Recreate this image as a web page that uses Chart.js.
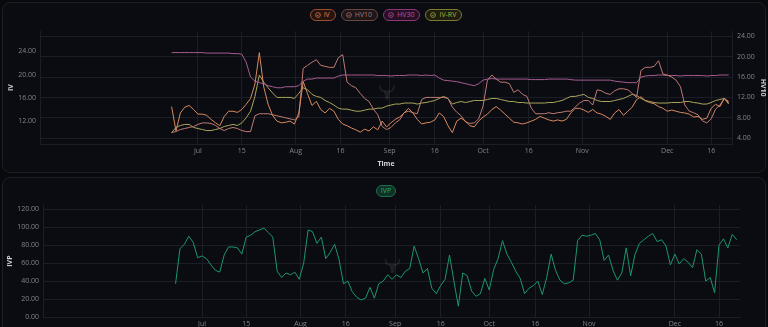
<!DOCTYPE html>
<html>
<head>
<meta charset="utf-8">
<title>IV / HV chart</title>
<script src="https://cdn.jsdelivr.net/npm/chart.js@4.4.1/dist/chart.umd.min.js"></script>
<style>
  html, body { margin: 0; padding: 0; background: #07090d; width: 768px; height: 327px; overflow: hidden; font-family: 'Open Sans', sans-serif; }
  .panel { position: absolute; left: 2px; width: 762px; border: 1px solid #1b1f27; border-radius: 8px; background: #0a0c11; }
  #p1 { top: 2px; height: 169px; }
  #p2 { top: 177px; height: 170px; }
  canvas { position: absolute; left: 0; }
  #c1 { top: 22px; }
  #c2 { top: 197px; }
  .legend { position: absolute; left: 0; width: 772px; display: flex; justify-content: center; gap: 5px; }
  #lg1 { top: 9px; }
  #lg2 { top: 185px; }
  .pill { display: flex; align-items: center; gap: 3px; height: 10px; padding: 0 5px 0 4px; border: 1px solid; border-radius: 7px; font-size: 7px; line-height: 10px; }
  .pill svg { width: 6px; height: 6px; }
</style>
</head>
<body>
<div class="panel" id="p1"></div>
<div class="panel" id="p2"></div>

<div class="legend" id="lg1">
  <span class="pill" style="border-color:#9c4f2f;background:#26140f;color:#e07a4c"><svg viewBox="0 0 10 10"><circle cx="5" cy="5" r="4" fill="none" stroke="currentColor" stroke-width="1.2"/><path d="M3 5.2l1.4 1.4L7 4" fill="none" stroke="currentColor" stroke-width="1.2"/></svg>IV</span>
  <span class="pill" style="border-color:#6a4842;background:#1e1618;color:#a8766c"><svg viewBox="0 0 10 10"><circle cx="5" cy="5" r="4" fill="none" stroke="currentColor" stroke-width="1.2"/><path d="M3 5.2l1.4 1.4L7 4" fill="none" stroke="currentColor" stroke-width="1.2"/></svg>HV10</span>
  <span class="pill" style="border-color:#8e357a;background:#261124;color:#c04ea6"><svg viewBox="0 0 10 10"><circle cx="5" cy="5" r="4" fill="none" stroke="currentColor" stroke-width="1.2"/><path d="M3 5.2l1.4 1.4L7 4" fill="none" stroke="currentColor" stroke-width="1.2"/></svg>HV30</span>
  <span class="pill" style="border-color:#7c7c2c;background:#1d1d10;color:#b0b044"><svg viewBox="0 0 10 10"><circle cx="5" cy="5" r="4" fill="none" stroke="currentColor" stroke-width="1.2"/><path d="M3 5.2l1.4 1.4L7 4" fill="none" stroke="currentColor" stroke-width="1.2"/></svg>IV-RV</span>
</div>
<div class="legend" id="lg2">
  <span class="pill" style="border-color:#1b6e4e;background:#0e3326;color:#2aa876;padding:0 4px">IVP</span>
</div>

<canvas id="c1" width="768" height="150"></canvas>
<canvas id="c2" width="768" height="140"></canvas>

<script>
'use strict';

// trading days from 21 Jun to 20 Dec, one value per day
const ivValues = [
  14.5, 10.3, 13.4, 14.4, 14.7, 14.0, 13.2, 13.2, 13.0, 12.3,
  11.7, 11.2, 12.8, 13.7, 13.7, 13.5, 14.0, 14.9, 15.9, 18.4,
  23.8, 17.9, 14.9, 13.0, 12.0, 11.7, 11.8, 12.0, 11.5, 13.4,
  18.8, 16.7, 14.7, 15.4, 14.0, 13.4, 14.2, 13.7, 12.3, 11.5,
  11.2, 10.8, 10.5, 10.1, 10.6, 10.3, 11.0, 10.5, 12.0, 11.0,
  11.7, 12.3, 12.7, 13.4, 14.2, 13.4, 12.3, 11.5, 11.7, 11.8,
  12.2, 13.4, 12.8, 11.2, 10.0, 12.0, 12.5, 12.0, 11.2, 11.0,
  12.0, 12.7, 13.2, 14.0, 14.5, 13.9, 13.2, 12.5, 11.8, 11.7,
  11.5, 11.7, 12.0, 12.3, 12.8, 12.5, 12.2, 12.0, 12.2, 12.0,
  12.3, 13.4, 14.2, 14.2, 13.9, 13.5, 14.0, 13.4, 13.2, 12.8,
  12.3, 13.4, 14.0, 13.0, 13.7, 14.4, 15.7, 16.2, 15.5, 15.2,
  15.0, 14.5, 14.2, 13.7, 13.9, 13.7, 13.5, 13.4, 13.2, 12.7,
  12.8, 12.3, 12.5, 14.2, 14.9, 14.5, 15.9, 15.2
];
const hv10Values = [
  5.1, 5.3, 5.7, 5.9, 6.1, 6.3, 6.7, 7.0, 7.0, 6.9,
  6.5, 5.9, 5.5, 5.9, 6.1, 5.9, 5.5, 5.3, 5.3, 8.4,
  8.8, 8.8, 8.8, 8.6, 8.4, 8.2, 8.0, 7.8, 7.6, 8.2,
  17.7, 18.3, 18.9, 19.4, 18.3, 18.1, 17.9, 17.9, 19.8, 20.4,
  15.0, 14.3, 13.9, 12.8, 11.8, 11.2, 9.7, 8.6, 6.3, 5.7,
  6.1, 7.0, 7.6, 9.0, 9.3, 9.0, 8.8, 11.6, 12.0, 12.0,
  12.0, 12.0, 12.0, 11.8, 10.1, 9.1, 8.4, 7.2, 6.9, 7.0,
  7.8, 10.3, 15.4, 16.4, 15.6, 15.0, 15.0, 14.7, 13.0, 13.5,
  12.6, 12.2, 9.9, 8.8, 8.8, 8.8, 9.0, 8.8, 9.0, 9.1,
  9.3, 9.3, 10.1, 10.9, 11.4, 11.4, 10.5, 13.5, 13.3, 12.8,
  12.6, 13.3, 13.7, 13.7, 13.5, 12.8, 12.0, 17.3, 17.9, 17.9,
  18.1, 19.2, 16.6, 16.4, 16.0, 15.4, 14.1, 10.5, 9.3, 9.0,
  8.6, 7.4, 7.0, 7.8, 9.7, 10.5, 11.8, 11.2
];
const hv30Values = [
  20.8, 20.8, 20.8, 20.8, 20.8, 20.8, 20.8, 20.8, 20.7, 20.7,
  20.7, 20.7, 20.7, 20.7, 20.6, 20.6, 20.5, 18.9, 16.0, 15.2,
  14.9, 14.7, 14.3, 14.1, 13.9, 13.9, 14.1, 14.1, 14.1, 14.3,
  15.2, 15.6, 15.6, 15.8, 15.8, 15.8, 15.8, 15.8, 16.2, 16.4,
  16.4, 16.4, 16.4, 16.4, 16.4, 16.4, 16.4, 16.3, 16.3, 16.3,
  16.2, 16.3, 16.3, 16.3, 16.4, 16.4, 16.4, 16.3, 16.4, 16.3,
  16.4, 15.8, 15.4, 15.3, 15.2, 15.1, 14.9, 14.7, 14.5, 14.3,
  14.7, 15.4, 15.6, 15.7, 15.6, 15.6, 15.6, 15.6, 15.6, 15.6,
  15.6, 15.6, 15.5, 15.5, 15.5, 15.5, 15.6, 15.6, 15.6, 15.6,
  15.6, 15.5, 15.4, 15.4, 15.4, 15.4, 15.4, 15.4, 15.4, 15.4,
  15.4, 15.2, 15.1, 15.0, 14.9, 14.9, 14.9, 16.0, 16.2, 16.3,
  16.3, 16.4, 16.4, 16.3, 16.3, 16.3, 16.2, 16.3, 16.3, 16.3,
  16.3, 16.3, 16.2, 16.3, 16.3, 16.4, 16.4, 16.4
];
const ivRvValues = [
  5.1, 6.1, 6.5, 6.7, 6.7, 6.1, 5.9, 5.7, 5.5, 5.5,
  5.7, 5.9, 6.3, 6.5, 6.7, 6.5, 7.0, 8.0, 9.3, 12.2,
  16.4, 15.0, 13.9, 12.9, 12.0, 12.0, 12.0, 12.0, 11.8, 12.8,
  13.9, 13.5, 12.6, 12.2, 12.0, 11.4, 11.0, 10.5, 9.9, 9.7,
  9.7, 9.5, 9.3, 9.3, 9.5, 9.7, 9.7, 9.9, 9.9, 10.3,
  10.5, 10.7, 10.7, 10.9, 10.9, 10.9, 10.7, 10.9, 11.0, 11.2,
  11.4, 11.8, 12.2, 11.8, 10.7, 11.0, 11.2, 11.0, 11.2, 11.4,
  11.4, 11.4, 11.6, 11.8, 11.8, 11.6, 11.4, 11.2, 11.2, 11.0,
  11.0, 10.9, 10.9, 10.9, 10.9, 10.9, 11.0, 11.0, 11.2, 11.4,
  11.8, 12.2, 12.2, 12.4, 12.6, 12.0, 11.8, 11.4, 11.2, 11.2,
  11.2, 11.4, 11.6, 11.8, 12.2, 12.6, 12.4, 11.8, 11.4, 11.2,
  11.0, 10.9, 10.9, 10.9, 11.0, 11.0, 11.0, 11.2, 11.2, 11.0,
  10.9, 10.7, 10.7, 11.0, 11.4, 11.6, 11.8, 10.7
];
const ivpValues = [
  37, 76, 81, 90, 83, 66, 68, 65, 58, 52,
  50, 69, 78, 78, 77, 70, 89, 91, 95, 97,
  99, 94, 89, 51, 44, 49, 47, 50, 42, 60,
  97, 95, 82, 89, 65, 72, 81, 64, 37, 40,
  28, 22, 19, 21, 33, 21, 37, 40, 47, 42,
  47, 44, 51, 54, 79, 65, 49, 54, 32, 26,
  35, 42, 69, 40, 12, 49, 46, 29, 23, 26,
  43, 30, 53, 65, 85, 70, 61, 51, 43, 26,
  32, 35, 40, 25, 44, 70, 52, 41, 37, 38,
  41, 85, 91, 90, 91, 93, 86, 63, 69, 52,
  41, 49, 77, 46, 70, 82, 86, 90, 93, 84,
  86, 79, 58, 70, 59, 65, 61, 55, 75, 70,
  40, 44, 27, 80, 87, 77, 92, 86
];

// time axis ticks (position in trading days from the first point)
const tickIndex = [6, 16, 28.3, 38.5, 49.7, 60, 71, 81.4, 93.6, 113, 123];
const tickText = ['Jul', '15', 'Aug', '16', 'Sep', '16', 'Oct', '16', 'Nov', 'Dec', '16'];

const gridColor = '#1b1e26';
const tickColor = '#80848d';
const titleColor = '#d0d3d9';

Chart.defaults.font.family = "'Open Sans', sans-serif";
Chart.defaults.font.size = 7;

const toPoints = function(arr) {
  return arr.map(function(v, i) {
    return { x: i, y: v };
  });
};

const maakLijn = function(label, values, color, axis) {
  return {
    label: label,
    data: toPoints(values),
    yAxisID: axis,
    borderColor: color,
    backgroundColor: color,
    borderWidth: 1,
    pointRadius: 0,
    pointHoverRadius: 0,
    tension: 0
  };
};

const tijdAs = function(height) {
  return {
    type: 'linear',
    min: -30,
    max: 127.75,
    afterBuildTicks: function(scale) {
      scale.ticks = tickIndex.map(function(v) {
        return { value: v };
      });
    },
    afterFit: function(scale) {
      scale.height = height;
    },
    ticks: {
      autoSkip: false,
      maxRotation: 0,
      padding: 3,
      color: tickColor,
      callback: function(value) {
        const k = tickIndex.indexOf(value);
        return k < 0 ? '' : tickText[k];
      }
    },
    grid: { color: gridColor, drawTicks: false },
    border: { color: gridColor }
  };
};

// faint logo in the middle of the plot
const watermark = {
  id: 'watermark',
  beforeDatasetsDraw: function(chart) {
    const a = chart.chartArea;
    const ctx = chart.ctx;
    const cx = (a.left + a.right) / 2 + 1;
    const cy = (a.top + a.bottom) / 2 + 7;
    ctx.save();
    ctx.strokeStyle = 'rgba(110,114,124,0.22)';
    ctx.fillStyle = 'rgba(110,114,124,0.2)';
    ctx.lineWidth = 1.5;
    ctx.beginPath();
    ctx.moveTo(cx - 7, cy - 9);
    ctx.quadraticCurveTo(cx - 7, cy - 3, cx - 2, cy - 3);
    ctx.moveTo(cx + 7, cy - 9);
    ctx.quadraticCurveTo(cx + 7, cy - 3, cx + 2, cy - 3);
    ctx.stroke();
    ctx.beginPath();
    ctx.moveTo(cx - 3, cy - 4);
    ctx.lineTo(cx + 3, cy - 4);
    ctx.lineTo(cx + 1.5, cy + 5);
    ctx.lineTo(cx - 1.5, cy + 5);
    ctx.closePath();
    ctx.fill();
    ctx.restore();
  }
};

const displayTop = function() {
  const ctx = document.getElementById('c1');
  new Chart(ctx, {
    type: 'line',
    data: {
      datasets: [
        maakLijn('IV', ivValues, '#d98a5f', 'y'),
        maakLijn('HV10', hv10Values, '#c07a73', 'y1'),
        maakLijn('HV30', hv30Values, '#a85c92', 'y1'),
        maakLijn('IV-RV', ivRvValues, '#aaa65c', 'y1')
      ]
    },
    options: {
      responsive: false,
      animation: false,
      layout: { padding: { top: 6, left: 0, right: 0, bottom: 0 } },
      plugins: { legend: { display: false }, tooltip: { enabled: false } },
      scales: {
        x: Object.assign(tijdAs(28), {
          title: { display: true, text: 'Time', color: titleColor, font: { size: 7, weight: 'bold' }, padding: { top: 0, bottom: 4 } }
        }),
        y: {
          position: 'left',
          min: 8.05,
          max: 27.5,
          afterFit: function(scale) { scale.width = 40; },
          ticks: {
            stepSize: 4,
            includeBounds: false,
            padding: 4,
            color: tickColor,
            callback: function(v) { return v.toFixed(2); }
          },
          grid: { display: false, drawTicks: false },
          border: { color: gridColor },
          title: { display: true, text: 'IV', color: titleColor, font: { size: 7, weight: 'bold' }, padding: { top: 7, bottom: 4 } }
        },
        y1: {
          position: 'right',
          min: 2.86,
          max: 25,
          afterFit: function(scale) { scale.width = 36; },
          ticks: {
            stepSize: 4,
            includeBounds: false,
            padding: 5,
            color: tickColor,
            callback: function(v) { return v.toFixed(2); }
          },
          grid: { color: gridColor, drawTicks: false },
          border: { color: gridColor },
          title: { display: true, text: 'HV10', color: titleColor, font: { size: 7, weight: 'bold' }, padding: { top: 1, bottom: 4 } }
        }
      }
    },
    plugins: [watermark]
  });
};

const displayBottom = function() {
  const ctx = document.getElementById('c2');
  new Chart(ctx, {
    type: 'line',
    data: {
      datasets: [maakLijn('IVP', ivpValues, '#1c966d', 'y')]
    },
    options: {
      responsive: false,
      animation: false,
      layout: { padding: { top: 5, left: 0, right: 28, bottom: 0 } },
      plugins: { legend: { display: false }, tooltip: { enabled: false } },
      scales: {
        x: tijdAs(20),
        y: {
          position: 'left',
          min: 0,
          max: 124.5,
          afterFit: function(scale) { scale.width = 43; },
          ticks: {
            stepSize: 20,
            includeBounds: false,
            padding: 4,
            color: tickColor,
            callback: function(v) { return v.toFixed(2); }
          },
          grid: { color: gridColor, drawTicks: false },
          border: { color: gridColor },
          title: { display: true, text: 'IVP', color: titleColor, font: { size: 7, weight: 'bold' }, padding: { top: 6, bottom: 4 } }
        }
      }
    },
    plugins: [watermark]
  });
};

document.addEventListener('DOMContentLoaded', function() {
  displayTop();
  displayBottom();
});
</script>
</body>
</html>
